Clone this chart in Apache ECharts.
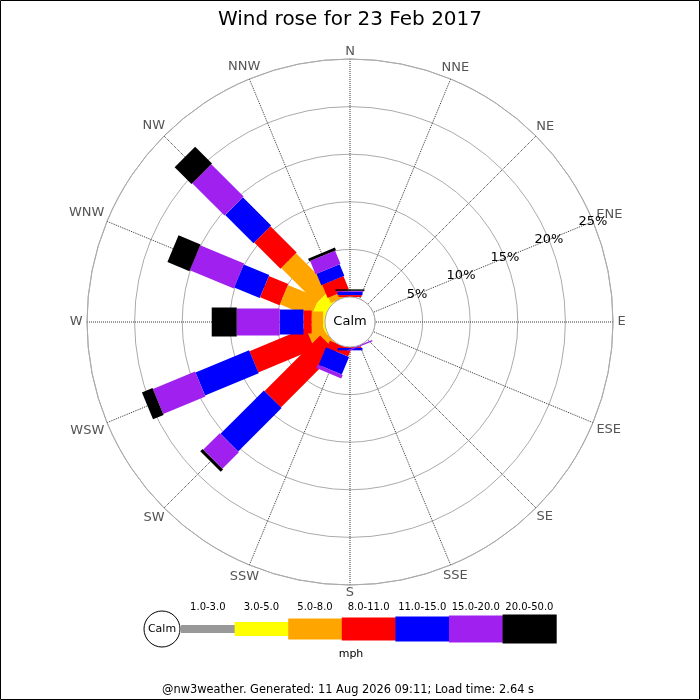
<!DOCTYPE html>
<html>
<head>
<meta charset="utf-8">
<title>Wind rose</title>
<script src="https://cdn.jsdelivr.net/npm/echarts@6/dist/echarts.min.js"></script>
<style>
html,body{margin:0;padding:0;background:#fff;}
#chart{width:700px;height:700px;}
</style>
</head>
<body>
<div id="chart"></div>
<script>
// compass points, clockwise from north
var dirs = ['N','NNE','NE','ENE','E','ESE','SE','SSE','S','SSW','SW','WSW','W','WNW','NW','NNW'];
// speed bands (mph)
var bands = ['1.0-3.0','3.0-5.0','5.0-8.0','8.0-11.0','11.0-15.0','15.0-20.0','20.0-50.0'];

// % of the day per direction for each band
var sp1_3   = [0,0,0,0,0,0,0,0,0,0,0,0,0,0,0,0];
var sp3_5   = [0,0,0,0,0,0,0,0,0,0,0,0.2,0.2,1.35,1.25,0];
var sp5_8   = [0,0,0,0,0,0,0,0,0,0,0.6,1.7,1.2,3.55,5.25,0.6];
var sp8_11  = [0.2,0,0,0,0,0,0,0,0.1,0.8,8.25,6.4,0.86,2.2,3.9,1.5];
var sp11_15 = [0.35,0,0,0,0,0,0,0,0.25,2.0,6.45,6.1,2.5,2.9,4.2,1.3];
var sp15_20 = [0.1,0,0,0,0,0,0,0.15,0,0.4,2.45,4.8,4.51,5.0,4.8,1.5];
var sp20_50 = [0.15,0,0,0,0,0,0,0,0,0,0.35,1.2,2.63,2.5,2.5,0.3];

var bandData = [sp1_3, sp3_5, sp5_8, sp8_11, sp11_15, sp15_20, sp20_50];

// look
var bandColors = ['#999999','#ffff00','#ffa500','#ff0000','#0000ff','#a020f0','#000000'];
var bandWidths = [8,14,21,23,25,27,29];
var FONT = 'DejaVu Sans';

var chart = echarts.init(document.getElementById('chart'));

// stacked spokes: each band is a straight strip from the previous total to the new total
var series = [];
var cum = dirs.map(function(){ return 0; });
for (var b = 0; b < bands.length; b++) {
  var data = [];
  for (var i = 0; i < dirs.length; i++) {
    var lo = cum[i];
    cum[i] = lo + bandData[b][i];
    data.push([i * 22.5, lo, cum[i]]);
  }
  series.push({
    type: 'custom',
    name: bands[b],
    coordinateSystem: 'polar',
    polarIndex: 0,
    encode: {angle: 0, radius: 2},
    data: data,
    renderItem: (function(w, col){
      return function(params, api){
        var lo = api.value(1), hi = api.value(2);
        if (hi - lo <= 0) return null;
        var ang = api.value(0);
        var p0 = api.coord([lo, ang]);
        var p1 = api.coord([hi, ang]);
        var cs = params.coordSys;
        var dx = p1[0] - cs.cx, dy = p1[1] - cs.cy;
        var len = Math.sqrt(dx*dx + dy*dy);
        var nx = -dy / len * w / 2, ny = dx / len * w / 2;
        return {
          type: 'polygon',
          shape: {points: [[p0[0]+nx, p0[1]+ny], [p1[0]+nx, p1[1]+ny], [p1[0]-nx, p1[1]-ny], [p0[0]-nx, p0[1]-ny]]},
          style: {fill: col}
        };
      };
    })(bandWidths[b], bandColors[b])
  });
}

// calm circle in the middle
series.push({
  type: 'custom',
  name: 'Calm',
  coordinateSystem: 'polar',
  polarIndex: 0,
  z: 5,
  data: [[0, 0, 0]],
  renderItem: function(params, api){
    var cs = params.coordSys;
    return {
      type: 'group',
      children: [{
        type: 'circle',
        shape: {cx: cs.cx, cy: cs.cy, r: cs.r0},
        style: {fill: '#fff', stroke: '#aaa', lineWidth: 1}
      }, {
        type: 'text',
        x: cs.cx, y: cs.cy,
        style: {text: 'Calm', fill: '#000', font: '13px "' + FONT + '"', align: 'center', verticalAlign: 'middle'}
      }]
    };
  }
});

// compass names just outside the rim, box pushed out so it clears the circle
var measure = document.createElement('canvas').getContext('2d');
measure.font = '13px "' + FONT + '"';
series.push({
  type: 'custom',
  name: 'dirs',
  coordinateSystem: 'polar',
  polarIndex: 0,
  data: dirs.map(function(d, i){ return [i * 22.5, 25]; }),
  encode: {angle: 0, radius: 1},
  renderItem: function(params, api){
    var txt = dirs[params.dataIndex];
    var p = api.coord([api.value(1), api.value(0)]);
    var cs = params.coordSys;
    var dx = p[0] - cs.cx, dy = p[1] - cs.cy;
    var len = Math.sqrt(dx*dx + dy*dy);
    var ux = dx / len, uy = dy / len;
    var hw = measure.measureText(txt).width / 2;
    var off = 4.5 + hw * Math.abs(ux) + 3 * Math.abs(uy);
    return {
      type: 'text',
      x: p[0] + ux * off, y: p[1] + uy * off,
      style: {text: txt, fill: '#555', font: '13px "' + FONT + '"', align: 'center', verticalAlign: 'middle'}
    };
  }
});

// legend drawn underneath
var graphics = [];
var lx = 181, segW = 53.6, ly = 629;
graphics.push({type:'circle', shape:{cx:162, cy:ly, r:18}, style:{fill:'#fff', stroke:'#000', lineWidth:1}});
graphics.push({type:'text', x:162, y:ly, style:{text:'Calm', fill:'#000', font:'11px "' + FONT + '"', align:'center', verticalAlign:'middle'}});
for (var k = 0; k < bands.length; k++) {
  var h = bandWidths[k];
  graphics.push({type:'rect', shape:{x: lx + k*segW, y: ly - h/2, width: segW + 0.5, height: h}, style:{fill: bandColors[k]}});
  graphics.push({type:'text', x: lx + k*segW + segW/2, y: 607, style:{text: bands[k], fill:'#000', font:'10px "' + FONT + '"', align:'center', verticalAlign:'middle'}});
}
graphics.push({type:'text', x:351, y:654, style:{text:'mph', fill:'#000', font:'11px "' + FONT + '"', align:'center', verticalAlign:'middle'}});
graphics.push({type:'text', x:348, y:690, style:{text:'@nw3weather. Generated: 11 Aug 2026 09:11; Load time: 2.64 s', fill:'#000', font:'11.4px "' + FONT + '"', align:'center', verticalAlign:'middle'}});
graphics.push({type:'rect', shape:{x:0.5, y:0.5, width:699, height:699}, style:{fill:'none', stroke:'#000', lineWidth:1}, silent:true});

var option = {
  animation: false,
  textStyle: {fontFamily: FONT},
  title: {
    text: 'Wind rose for 23 Feb 2017',
    left: 'center', top: 5,
    textStyle: {fontSize: 20, fontWeight: 'normal', color: '#000', fontFamily: FONT}
  },
  polar: [
    {center: [350, 322], radius: [25, 263]},
    {center: [350, 322], radius: [25, 263]}
  ],
  angleAxis: [{
    polarIndex: 0,
    type: 'value', min: 0, max: 360, interval: 22.5,
    startAngle: 90, clockwise: true,
    axisLine: {show: true, lineStyle: {color: '#aaa', width: 1}},
    axisTick: {show: false},
    axisLabel: {show: false},
    splitLine: {show: true, lineStyle: {color: '#333', type: 'dotted', width: 1}}
  }, {
    // only here to lay the % labels along the ENE spoke
    polarIndex: 1,
    type: 'value', min: 0, max: 360,
    startAngle: 22.5,
    axisLine: {show: false}, axisTick: {show: false}, axisLabel: {show: false}, splitLine: {show: false}
  }],
  radiusAxis: [{
    polarIndex: 0,
    type: 'value', min: 0, max: 25, interval: 5,
    axisLine: {show: false}, axisTick: {show: false}, axisLabel: {show: false},
    splitLine: {show: true, lineStyle: {color: '#aaa', width: 1}}
  }, {
    polarIndex: 1,
    type: 'value', min: 0, max: 25, interval: 5,
    z: 10,
    axisLine: {show: false}, axisTick: {show: false}, splitLine: {show: false},
    axisLabel: {
      margin: 0, align: 'center', verticalAlign: 'middle',
      color: '#000', fontSize: 13, fontFamily: FONT,
      formatter: function(v){ return v === 0 ? '' : v + '%'; }
    }
  }],
  graphic: graphics,
  series: series
};
chart.setOption(option);
</script>
</body>
</html>
